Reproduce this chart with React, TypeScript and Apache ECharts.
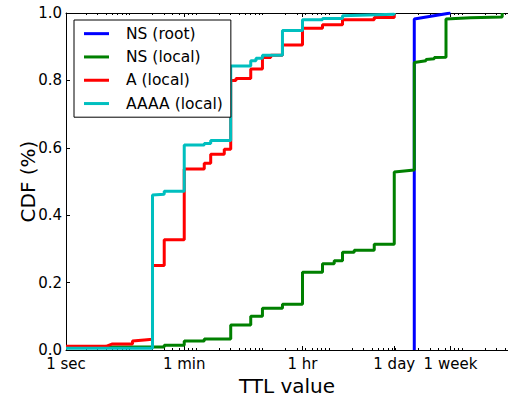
import React, { useEffect, useRef } from "react";
import * as echarts from "echarts";

const FONT = "DejaVu Sans";

const seriesNames = ["NS (root)", "NS (local)", "A (local)", "AAAA (local)"];
const seriesColors = ["#0000ff", "#008000", "#ff0000", "#00bfbf"];

// [TTL in seconds, CDF]
const nsRoot: [number, number][] = [
  [172800, 0], [172800, 0.982], [518400, 0.998], [604800, 1.0],
];

const nsLocal: [number, number][] = [
  [1, 0.009], [30, 0.009], [30, 0.014], [60, 0.014], [60, 0.027],
  [120, 0.027], [120, 0.033], [300, 0.033], [300, 0.074], [600, 0.074],
  [600, 0.1], [900, 0.1], [900, 0.124], [1800, 0.124], [1800, 0.136],
  [3600, 0.136], [3600, 0.231], [7200, 0.231], [7200, 0.256], [10800, 0.256],
  [10800, 0.265], [14400, 0.265], [14400, 0.29], [21600, 0.29], [21600, 0.296],
  [43200, 0.296], [43200, 0.314], [86400, 0.314], [86400, 0.528], [172800, 0.534],
  [172800, 0.853], [259200, 0.858], [259200, 0.862], [345600, 0.864], [345600, 0.868],
  [518400, 0.869], [518400, 0.982], [1209600, 0.986], [3628800, 0.988], [3628800, 1.0],
];

const aLocal: [number, number][] = [
  [1, 0.011], [4, 0.011], [5, 0.018], [10, 0.018], [10, 0.027],
  [15, 0.03], [20, 0.032], [20, 0.251], [30, 0.251], [30, 0.327],
  [60, 0.327], [60, 0.537], [120, 0.537], [120, 0.554], [150, 0.554],
  [150, 0.581], [240, 0.581], [240, 0.596], [300, 0.596], [300, 0.8],
  [360, 0.8], [360, 0.806], [600, 0.806], [600, 0.834], [900, 0.834],
  [900, 0.868], [1200, 0.868], [1200, 0.875], [1800, 0.875], [1800, 0.905],
  [3600, 0.905], [3600, 0.955], [7200, 0.955], [7200, 0.965], [14400, 0.965],
  [14400, 0.98], [43200, 0.98], [43200, 0.987], [86400, 0.987], [86400, 1.0],
];

const aaaaLocal: [number, number][] = [
  [1, 0.005], [20, 0.005], [20, 0.46], [30, 0.462], [30, 0.471],
  [60, 0.471], [60, 0.608], [120, 0.608], [120, 0.613], [150, 0.613],
  [150, 0.622], [300, 0.622], [300, 0.843], [600, 0.843], [600, 0.858],
  [720, 0.858], [720, 0.866], [900, 0.866], [900, 0.875], [1800, 0.875],
  [1800, 0.948], [3600, 0.948], [3600, 0.98], [7200, 0.98], [7200, 0.984],
  [14400, 0.984], [14400, 0.992], [86400, 0.996], [86400, 1.0],
];

const seriesData = [nsRoot, nsLocal, aLocal, aaaaLocal];

const majorTickSeconds = [1, 60, 3600, 86400, 604800];
const majorTickLabels = ["1 sec", "1 min", "1 hr", "1 day", "1 week"];
const minorMultipliers = [2, 3, 4, 5, 6, 7, 8, 9];
const minorDecades = [0, 1, 2, 3, 4, 5, 6];

const yTickValues = [0, 0.2, 0.4, 0.6, 0.8, 1.0];

const X_MIN_LOG = 0;
const X_MAX_LOG = 6.647;

export default function App() {
  const ref = useRef<HTMLDivElement>(null);

  useEffect(() => {
    if (!ref.current) return;
    const chart = echarts.init(ref.current, null, { renderer: "svg" });

    const majorLog = majorTickSeconds.map((s) => Math.log10(s));
    const minorLog: number[] = [];
    minorDecades.forEach((d) =>
      minorMultipliers.forEach((m) => {
        const v = Math.log10(m * Math.pow(10, d));
        if (v <= X_MAX_LOG) minorLog.push(v);
      })
    );

    const labelFor = (v: number) => {
      for (let i = 0; i < majorLog.length; i++) {
        if (Math.abs(majorLog[i] - v) < 1e-6) return majorTickLabels[i];
      }
      return "";
    };

    const baseX = {
      type: "value",
      min: X_MIN_LOG,
      max: X_MAX_LOG,
      splitLine: { show: false },
    } as any;

    const option: any = {
      animation: false,
      textStyle: { fontFamily: FONT },
      grid: { left: 66, top: 13, right: 0, bottom: 45, containLabel: false },
      legend: {
        orient: "vertical",
        left: 74,
        top: 20,
        padding: [2, 8, 2, 10],
        itemGap: 0,
        itemWidth: 25,
        itemHeight: 3,
        icon: "rect",
        backgroundColor: "#ffffff",
        borderColor: "#000000",
        borderWidth: 1,
        borderRadius: 0,
        textStyle: {
          fontFamily: FONT,
          fontSize: 15.5,
          color: "#000000",
          lineHeight: 23.3,
          padding: [0, 0, 0, 12],
        },
        data: seriesNames,
      },
      xAxis: [
        {
          ...baseX,
          position: "bottom",
          name: "TTL value",
          nameLocation: "middle",
          nameGap: 26,
          nameMoveOverlap: false,
          nameTextStyle: { fontFamily: FONT, fontSize: 20, color: "#000" },
          axisLine: { show: true, lineStyle: { color: "#000", width: 1 } },
          axisTick: { show: true, inside: true, length: 4, customValues: majorLog, lineStyle: { color: "#000" } },
          axisLabel: {
            show: true,
            customValues: majorLog,
            formatter: (v: number) => labelFor(v),
            fontFamily: FONT,
            fontSize: 15,
            color: "#000",
            margin: 6,
            showMinLabel: true,
          },
        },
        {
          ...baseX,
          position: "bottom",
          axisLine: { show: false },
          axisTick: { show: true, inside: true, length: 2, customValues: minorLog, lineStyle: { color: "#000" } },
          axisLabel: { show: false },
        },
        {
          ...baseX,
          position: "top",
          axisLine: { show: true, lineStyle: { color: "#000", width: 1 } },
          axisTick: { show: true, inside: true, length: 4, customValues: majorLog, lineStyle: { color: "#000" } },
          axisLabel: { show: false },
        },
        {
          ...baseX,
          position: "top",
          axisLine: { show: false },
          axisTick: { show: true, inside: true, length: 2, customValues: minorLog, lineStyle: { color: "#000" } },
          axisLabel: { show: false },
        },
      ],
      yAxis: {
        type: "value",
        min: 0,
        max: 1,
        interval: 0.2,
        name: "CDF (%)",
        nameLocation: "middle",
        nameGap: 28,
        nameMoveOverlap: false,
        nameTextStyle: { fontFamily: FONT, fontSize: 20, color: "#000" },
        splitLine: { show: false },
        axisLine: { show: true, lineStyle: { color: "#000", width: 1 } },
        axisTick: { show: true, inside: true, length: 4, customValues: yTickValues, lineStyle: { color: "#000" } },
        axisLabel: {
          customValues: yTickValues,
          formatter: (v: number) => v.toFixed(1),
          fontFamily: FONT,
          fontSize: 15,
          color: "#000",
          margin: 4,
        },
      },
      series: seriesData.map((pts, i) => ({
        name: seriesNames[i],
        type: "line",
        xAxisIndex: 0,
        showSymbol: false,
        symbol: "none",
        color: seriesColors[i],
        lineStyle: { color: seriesColors[i], width: 3 },
        data: pts.map(([t, c]) => [Math.log10(t), c]),
        silent: true,
      })),
    };

    chart.setOption(option);
    return () => chart.dispose();
  }, []);

  return (
    <div
      ref={ref}
      style={{ position: "fixed", left: 0, top: 0, width: 508, height: 401, background: "#fff" }}
    />
  );
}
